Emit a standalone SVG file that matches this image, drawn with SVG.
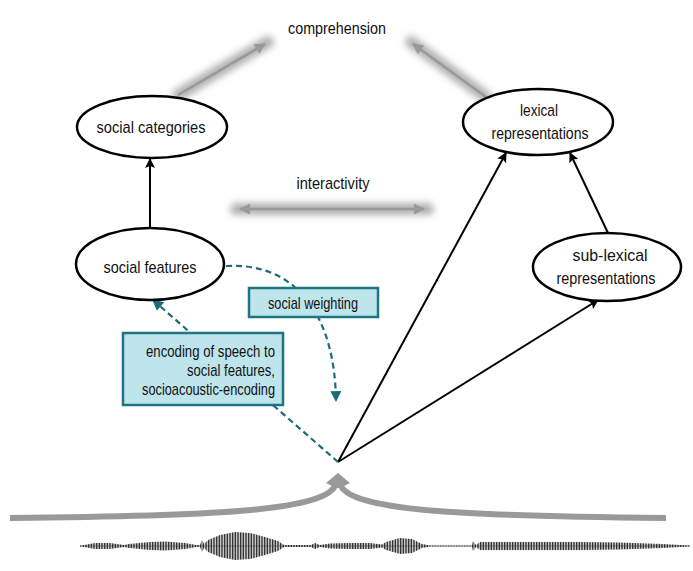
<svg xmlns="http://www.w3.org/2000/svg" width="693" height="571" viewBox="0 0 693 571">
<style>
text{font-family:"Liberation Sans",Arial,sans-serif;font-size:17px;fill:#111;text-anchor:middle}
.node ellipse{fill:#fff;stroke:#000;stroke-width:2.5}
.blk{stroke:#000;stroke-width:2;fill:none;marker-end:url(#ab)}
.teal{stroke:#1c6b78;stroke-width:2.2;fill:none;stroke-dasharray:6 4;marker-end:url(#at)}
.box rect{fill:#bfe5ec;stroke:#1d7482;stroke-width:2.5}
.glow{stroke:#b0b0b0;stroke-width:12;fill:none;filter:url(#blur);stroke-linecap:round}
.gr{stroke:#999;stroke-width:2.5;fill:none}
</style>
<defs>
<filter id="blur" filterUnits="userSpaceOnUse" x="0" y="0" width="693" height="571"><feGaussianBlur stdDeviation="3.5"/></filter>
<marker id="ab" viewBox="0 0 10 10" refX="9" refY="5" markerWidth="11" markerHeight="10" markerUnits="userSpaceOnUse" orient="auto"><path d="M0,0 L10,5 L0,10 L2,5 z" fill="#000"/></marker>
<marker id="at" viewBox="0 0 10 10" refX="9" refY="5" markerWidth="12" markerHeight="11" markerUnits="userSpaceOnUse" orient="auto"><path d="M0,0 L10,5 L0,10 z" fill="#1c6b78"/></marker>
<marker id="ag" viewBox="0 0 10 10" refX="9" refY="5" markerWidth="12" markerHeight="11" markerUnits="userSpaceOnUse" orient="auto"><path d="M0,0 L10,5 L0,10 z" fill="#999"/></marker>
<marker id="ags" viewBox="0 0 10 10" refX="1" refY="5" markerWidth="12" markerHeight="11" markerUnits="userSpaceOnUse" orient="auto"><path d="M10,0 L0,5 L10,10 z" fill="#999"/></marker>
<pattern id="wv" patternUnits="userSpaceOnUse" width="1.6" height="60"><rect x="0" y="0" width="0.9" height="60" fill="#1a1a1a"/></pattern>
</defs>
<text x="337" y="34" textLength="98" lengthAdjust="spacingAndGlyphs">comprehension</text>
<g id="connectors">
<line class="glow" x1="178" y1="95" x2="268" y2="42"/>
<line class="gr" x1="178" y1="95" x2="265" y2="44" marker-end="url(#ag)"/>
<line class="glow" x1="486" y1="97" x2="411" y2="42"/>
<line class="gr" x1="486" y1="97" x2="413" y2="44" marker-end="url(#ag)"/>
<line class="glow" x1="236" y1="209" x2="428" y2="209"/>
<line class="gr" x1="240" y1="209" x2="424" y2="209" marker-start="url(#ags)" marker-end="url(#ag)"/>
<line class="blk" x1="150" y1="229" x2="150" y2="159"/>
<line class="blk" x1="338" y1="462" x2="506" y2="153"/>
<line class="blk" x1="338" y1="462" x2="598" y2="300"/>
<line class="blk" x1="608" y1="233" x2="570" y2="153"/>
<path class="teal" d="M226,266 C300,262 335,320 336,401"/>
<path class="teal" d="M338,462 L153,300"/>
</g>
<text x="333" y="189" textLength="73" lengthAdjust="spacingAndGlyphs">interactivity</text>
<g id="social-categories" class="node"><ellipse cx="152" cy="127" rx="75" ry="31"/><text x="151" y="133" textLength="109" lengthAdjust="spacingAndGlyphs">social categories</text></g>
<g id="lexical-representations" class="node"><ellipse cx="538" cy="122" rx="75" ry="33"/><text x="539" y="116" textLength="38" lengthAdjust="spacingAndGlyphs">lexical</text><text x="540" y="139" textLength="97" lengthAdjust="spacingAndGlyphs">representations</text></g>
<g id="social-features" class="node"><ellipse cx="150" cy="264" rx="74" ry="36"/><text x="150" y="273" textLength="93" lengthAdjust="spacingAndGlyphs">social features</text></g>
<g id="sub-lexical-representations" class="node"><ellipse cx="607" cy="267" rx="74" ry="34"/><text x="610" y="261" textLength="75" lengthAdjust="spacingAndGlyphs">sub-lexical</text><text x="606" y="284" textLength="99" lengthAdjust="spacingAndGlyphs">representations</text></g>
<g id="social-weighting" class="box"><rect x="249" y="288" width="129" height="29"/><text x="313" y="309" textLength="90" lengthAdjust="spacingAndGlyphs">social weighting</text></g>
<g id="socioacoustic-encoding" class="box"><rect x="123" y="333" width="160" height="72"/>
<text x="275" y="357" style="text-anchor:end" textLength="129" lengthAdjust="spacingAndGlyphs">encoding of speech to</text>
<text x="275" y="376" style="text-anchor:end" textLength="88" lengthAdjust="spacingAndGlyphs">social features,</text>
<text x="275" y="395" style="text-anchor:end" textLength="133" lengthAdjust="spacingAndGlyphs">socioacoustic-encoding</text></g>
<g id="input-arrow">
<path d="M10,518 C200,516 322,512 335,486" stroke="#999" stroke-width="6" fill="none"/>
<path d="M666,518 C476,516 354,512 341,486" stroke="#999" stroke-width="6" fill="none"/>
<polygon points="338,473 350,483 344,486 332,486 326,483" fill="#999"/>
<rect x="333" y="482" width="10" height="6" fill="#999"/>
</g>
<g id="waveform">
<line x1="80" y1="546" x2="690" y2="546" stroke="#888" stroke-width="0.7"/>
<polygon fill="url(#wv)" points="80,545.5 84,545 95,543 110,543 124,545 129,544 150,542 165,541.5 185,543 196,545 200,545 202,540 204,544 208,540 220,535 235,532 250,533 265,537 278,541 284,545 311,545 315,543 320,545 330,543.5 350,543 370,543 382,544.5 386,542 400,538 412,539 422,544 430,545.5 472,545.5 473,541 476,545 480,542 530,542 580,542 620,542.5 662,544 690,545.5 690,546.5 662,548 620,549.5 580,550 530,550 480,550 476,547 473,551 472,546.5 430,546.5 422,548 412,553 400,554 386,550 382,547.5 370,549 350,549 330,548.5 320,547 315,549 311,547 284,547 278,551 265,555 250,559 235,560 220,557 208,552 204,548 202,552 200,547 196,547 185,549 165,550.5 150,550 129,548 124,547 110,549 95,549 84,547 80,546.5"/>
</g>
</svg>
